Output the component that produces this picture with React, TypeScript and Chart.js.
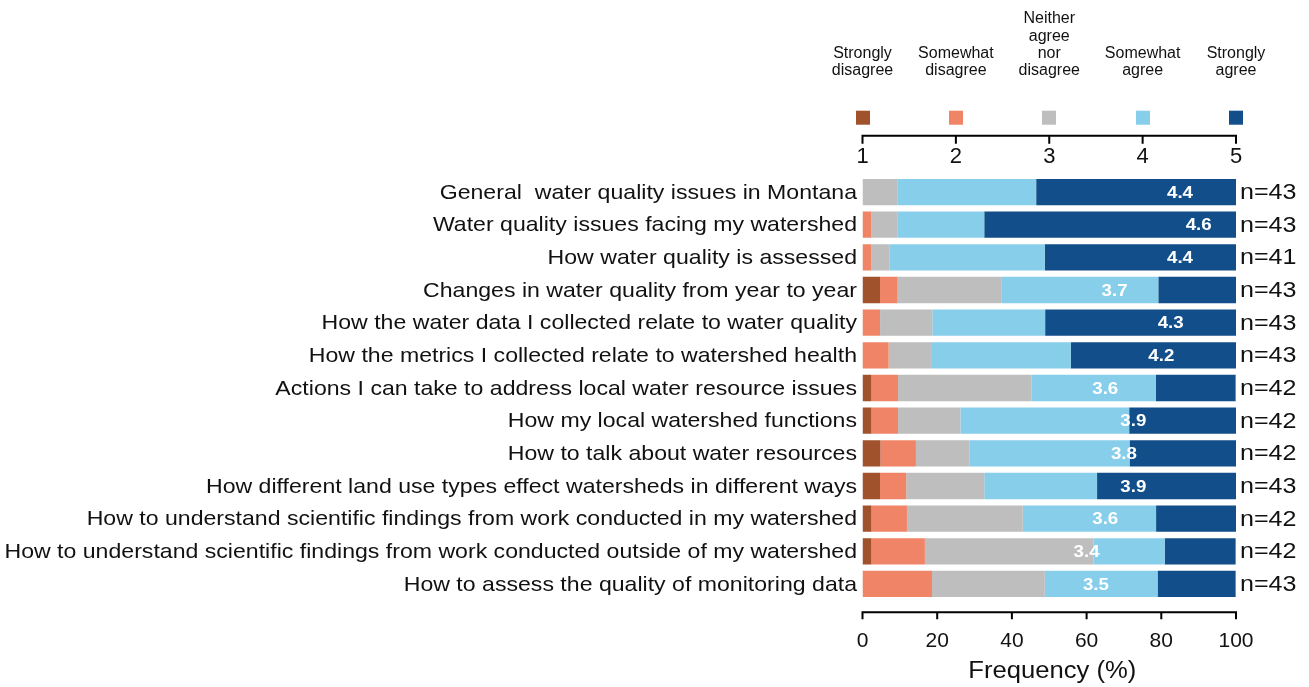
import React, { useEffect, useRef } from "react";
import { Chart, registerables } from "chart.js";

Chart.register(...registerables);

// ---------- data ----------
const categories = [
  "General  water quality issues in Montana",
  "Water quality issues facing my watershed",
  "How water quality is assessed",
  "Changes in water quality from year to year",
  "How the water data I collected relate to water quality",
  "How the metrics I collected relate to watershed health",
  "Actions I can take to address local water resource issues",
  "How my local watershed functions",
  "How to talk about water resources",
  "How different land use types effect watersheds in different ways",
  "How to understand scientific findings from work conducted in my watershed",
  "How to understand scientific findings from work conducted outside of my watershed",
  "How to assess the quality of monitoring data",
];

const stronglyDisagree = [0, 0, 0, 4.7, 0, 0, 2.4, 2.4, 4.8, 4.7, 2.4, 2.4, 0];
const somewhatDisagree = [0, 2.3, 2.4, 4.7, 4.7, 7.0, 7.1, 7.1, 9.5, 7.0, 9.5, 14.3, 18.6];
const neitherAgree = [9.3, 7.0, 4.9, 27.9, 14.0, 11.6, 35.7, 16.7, 14.3, 20.9, 31.0, 45.2, 30.2];
const somewhatAgree = [37.2, 23.3, 41.5, 41.9, 30.2, 37.2, 33.3, 45.2, 42.9, 30.2, 35.7, 19.0, 30.2];
const stronglyAgree = [53.5, 67.4, 51.2, 20.9, 51.2, 44.2, 21.4, 28.6, 28.6, 37.2, 21.4, 19.0, 20.9];

const meanScores = [4.4, 4.6, 4.4, 3.7, 4.3, 4.2, 3.6, 3.9, 3.8, 3.9, 3.6, 3.4, 3.5];
const respondents = [43, 43, 41, 43, 43, 43, 42, 42, 42, 43, 42, 42, 43];
const nLabels = respondents.map((n) => "n=" + n);

const seriesNames = [
  "Strongly disagree",
  "Somewhat disagree",
  "Neither agree nor disagree",
  "Somewhat agree",
  "Strongly agree",
];
const legendLabels = [
  ["Strongly", "disagree"],
  ["Somewhat", "disagree"],
  ["Neither", "agree", "nor", "disagree"],
  ["Somewhat", "agree"],
  ["Strongly", "agree"],
];
const likertTicks = [1, 2, 3, 4, 5];
const frequencyTicks = [0, 20, 40, 60, 80, 100];
const axisTitle = "Frequency (%)";

// ---------- styles ----------
const COLORS = ["#A0522D", "#F08466", "#BEBEBE", "#87CEEB", "#124E8A"];
const FONT = "'Liberation Sans', Arial, Helvetica, sans-serif";
const TEXT = "#111111";

function stretchedText(ctx: CanvasRenderingContext2D, text: string, x: number, y: number, sx: number, align: CanvasTextAlign) {
  ctx.save();
  ctx.translate(x, y);
  ctx.scale(sx, 1);
  ctx.textAlign = align;
  ctx.fillText(text, 0, 0);
  ctx.restore();
}

export default function App() {
  const ref = useRef<HTMLCanvasElement>(null);

  useEffect(() => {
    const canvas = ref.current;
    if (!canvas) return;

    const overlay = {
      id: "overlay",
      afterDatasetsDraw(chart: any) {
        const { ctx, chartArea, scales } = chart;
        const x2 = scales.x2;
        const x = scales.x;
        const y = scales.y;
        const y2 = scales.y2;
        ctx.save();
        ctx.textBaseline = "middle";

        // mean labels
        ctx.fillStyle = "#ffffff";
        ctx.font = `bold 17px ${FONT}`;
        meanScores.forEach((m, i) => {
          stretchedText(ctx, m.toFixed(1), x2.getPixelForValue(m), y.getPixelForValue(i) + 1, 1.1, "center");
        });

        // category labels (left)
        ctx.fillStyle = TEXT;
        ctx.font = `21px ${FONT}`;
        categories.forEach((c, i) => {
          stretchedText(ctx, c, chartArea.left - 5.5, y.getPixelForValue(i) + 1, 1.1, "right");
        });

        // n labels (right)
        ctx.font = `22px ${FONT}`;
        nLabels.forEach((t, i) => {
          stretchedText(ctx, t, chartArea.right + 4, y2.getPixelForValue(i) + 1, 1.14, "left");
        });

        // top likert axis
        const topY = chartArea.top - 40;
        ctx.strokeStyle = "#000";
        ctx.lineWidth = 2;
        ctx.beginPath();
        ctx.moveTo(x2.getPixelForValue(likertTicks[0]) - 1, topY);
        ctx.lineTo(x2.getPixelForValue(likertTicks[likertTicks.length - 1]) + 1, topY);
        likertTicks.forEach((t) => {
          const px = x2.getPixelForValue(t);
          ctx.moveTo(px, topY);
          ctx.lineTo(px, topY + 8);
        });
        ctx.stroke();
        ctx.fillStyle = TEXT;
        ctx.font = `22px ${FONT}`;
        ctx.textAlign = "center";
        likertTicks.forEach((t) => {
          ctx.fillText(String(t), x2.getPixelForValue(t), topY + 21);
        });

        // legend squares and labels
        likertTicks.forEach((t, k) => {
          const px = x2.getPixelForValue(t);
          ctx.fillStyle = COLORS[k];
          ctx.fillRect(Math.round(px - 7), topY - 25, 14, 14);
          ctx.fillStyle = TEXT;
          ctx.font = `16px ${FONT}`;
          ctx.textAlign = "center";
          const lines = legendLabels[k];
          lines.forEach((ln, j) => {
            const fromBottom = lines.length - 1 - j;
            ctx.fillText(ln, px, topY - 65 - fromBottom * 17.3);
          });
        });

        // bottom frequency axis
        const botY = chartArea.bottom + 12;
        ctx.strokeStyle = "#000";
        ctx.lineWidth = 2;
        ctx.beginPath();
        ctx.moveTo(x.getPixelForValue(0) - 1, botY);
        ctx.lineTo(x.getPixelForValue(100) + 1, botY);
        frequencyTicks.forEach((t) => {
          const px = x.getPixelForValue(t);
          ctx.moveTo(px, botY);
          ctx.lineTo(px, botY + 7);
        });
        ctx.stroke();

        // axis title
        ctx.fillStyle = TEXT;
        ctx.font = `23px ${FONT}`;
        stretchedText(ctx, axisTitle, (x.left + x.right) / 2 + 3, 672, 1.114, "center");
        ctx.restore();
      },
    };

    const seriesData = [stronglyDisagree, somewhatDisagree, neitherAgree, somewhatAgree, stronglyAgree];

    const chart = new Chart(canvas, {
      type: "bar",
      data: {
        labels: categories,
        datasets: seriesData.map((d, k) => ({
          label: seriesNames[k],
          data: d,
          backgroundColor: COLORS[k],
          borderWidth: 0,
          stack: "s",
          xAxisID: "x",
          yAxisID: "y",
          categoryPercentage: 1,
          barPercentage: 0.805,
        })),
      },
      options: {
        indexAxis: "y",
        responsive: false,
        animation: false,
        devicePixelRatio: 1,
        layout: { padding: { top: 175.7, left: 0, right: 0, bottom: 0 } },
        plugins: {
          legend: { display: false },
          tooltip: { enabled: false },
        },
        scales: {
          x: {
            type: "linear",
            position: "bottom",
            stacked: true,
            min: 0,
            max: 100,
            grid: { display: false, drawTicks: false },
            border: { display: false },
            ticks: {
              stepSize: 20,
              padding: 28.5,
              color: TEXT,
              font: { family: FONT, size: 21 },
              maxRotation: 0,
            },
            afterFit: (s: any) => {
              s.height = 86.7;
            },
          },
          x2: {
            type: "linear",
            position: "top",
            display: false,
            min: 1,
            max: 5,
          },
          y: {
            type: "category",
            stacked: true,
            offset: true,
            grid: { display: false, drawTicks: false },
            border: { display: false },
            ticks: { display: false },
            afterFit: (s: any) => {
              s.width = 862.5;
            },
          },
          y2: {
            type: "category",
            position: "right",
            labels: nLabels,
            offset: true,
            grid: { display: false, drawTicks: false },
            border: { display: false },
            ticks: { display: false },
            afterFit: (s: any) => {
              s.width = 73;
            },
          },
        },
      },
      plugins: [overlay],
    } as any);

    return () => chart.destroy();
  }, []);

  return (
    <div style={{ position: "fixed", left: 0, top: 0, width: 1309, height: 687, background: "#fff" }}>
      <canvas ref={ref} width={1309} height={687} style={{ display: "block" }} />
    </div>
  );
}
